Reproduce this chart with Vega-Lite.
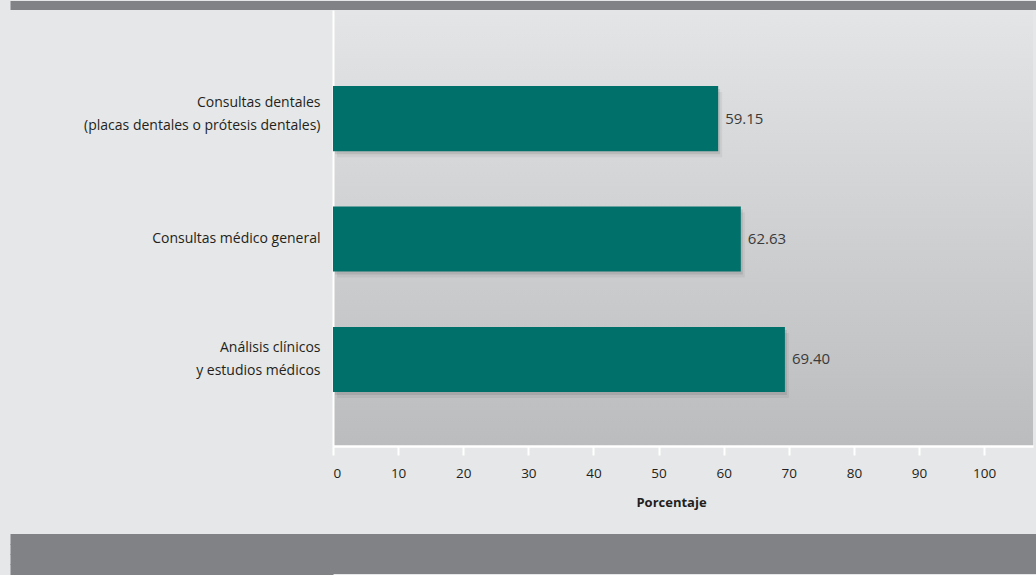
{
  "$schema": "https://vega.github.io/schema/vega-lite/v6.json",
  "padding": 0,
  "background": "#e6e7e8",
  "spacing": 0,
  "config": {"view": {"stroke": null}, "font": "Open Sans"},
  "datasets": {
    "bars": [
      {"label": "Consultas dentales|(placas dentales o prótesis dentales)", "value": 59.15},
      {"label": "Consultas médico general", "value": 62.63},
      {"label": "Análisis clínicos|y estudios médicos", "value": 69.40}
    ],
    "band": [{"k": "a"}],
    "band4": [{"k": "a"}, {"k": "b"}, {"k": "c"}, {"k": "d"}]
  },
  "vconcat": [
    {
      "width": 703, "height": 9,
      "data": {"name": "band"},
      "view": {"fill": "#808285", "stroke": null},
      "mark": {"type": "rect", "opacity": 0},
      "encoding": {
        "y": {"field": "k", "type": "nominal", "scale": {"paddingInner": 0, "paddingOuter": 0},
          "axis": {"title": null, "labels": false, "domain": false, "grid": false, "ticks": true,
            "tickSize": 323, "tickWidth": 9, "tickColor": "#808285", "minExtent": 333, "maxExtent": 333}}
      }
    },
    {
      "width": 700, "height": 436,
      "data": {"name": "bars"},
      "view": {"stroke": null, "fill": {"gradient": "linear", "x1": 0, "y1": 0, "x2": 0, "y2": 1, "stops": [{"offset": 0, "color": "#e4e5e6"}, {"offset": 1, "color": "#bbbcbe"}]}},
      "encoding": {
        "y": {
          "field": "label", "type": "nominal", "sort": null,
          "scale": {"paddingInner": 0.46, "paddingOuter": 0.54, "align": 0.585},
          "axis": {
            "title": null, "domainColor": "#ffffff", "domainWidth": 2, "ticks": false, "grid": false,
            "labelPadding": 13, "labelFontSize": 14, "labelColor": "#231f20", "labelLimit": 400,
            "labelExpr": "split(datum.label, '|')", "labelLineHeight": 23,
            "labelOffset": {"condition": [
              {"test": "indexof(datum.label, 'dentales') >= 0", "value": -16},
              {"test": "indexof(datum.label, 'lisis') >= 0", "value": -11}
            ], "value": 0},
            "minExtent": 333, "maxExtent": 333
          }
        }
      },
      "layer": [
        {
          "mark": {"type": "bar", "color": "#000000", "opacity": 0.05, "yOffset": 6, "xOffset": 4},
          "encoding": {"x": {"field": "value", "type": "quantitative"}}
        },
        {
          "mark": {"type": "bar", "color": "#000000", "opacity": 0.09, "yOffset": 3, "xOffset": 2},
          "encoding": {"x": {"field": "value", "type": "quantitative"}}
        },
        {
          "mark": {"type": "bar", "color": "#00706b"},
          "encoding": {
            "x": {
              "field": "value", "type": "quantitative",
              "scale": {"domain": [0, 107.5], "nice": false},
              "axis": {
                "title": ["Porcentaje", ""], "values": [0, 10, 20, 30, 40, 50, 60, 70, 80, 90, 100], "format": "d",
                "grid": false, "domainColor": "#ffffff", "domainWidth": 2.5,
                "tickColor": "#ffffff", "tickWidth": 2, "tickSize": 9,
                "labelFontSize": 13.5, "labelColor": "#231f20", "labelPadding": 11,
                "titleFontSize": 13, "titleFontWeight": "bold", "titleColor": "#231f20",
                "titlePadding": 17, "titleX": 338, "titleAlign": "center", "titleLineHeight": 23
              }
            }
          }
        },
        {
          "mark": {"type": "text", "align": "left", "baseline": "middle", "dx": 7, "fontSize": 15, "color": "#3a3a3a"},
          "encoding": {
            "x": {"field": "value", "type": "quantitative"},
            "text": {"field": "value", "type": "quantitative", "format": ".2f"}
          }
        }
      ]
    },
    {
      "width": 703, "height": 40,
      "data": {"name": "band4"},
      "view": {"fill": "#808285", "stroke": null},
      "mark": {"type": "rect", "opacity": 0},
      "encoding": {
        "y": {"field": "k", "type": "nominal", "scale": {"paddingInner": 0, "paddingOuter": 0},
          "axis": {"title": null, "labels": false, "domain": false, "grid": false, "ticks": true,
            "tickSize": 323, "tickWidth": 11, "tickColor": "#808285", "minExtent": 333, "maxExtent": 333}}
      }
    }
  ]
}
